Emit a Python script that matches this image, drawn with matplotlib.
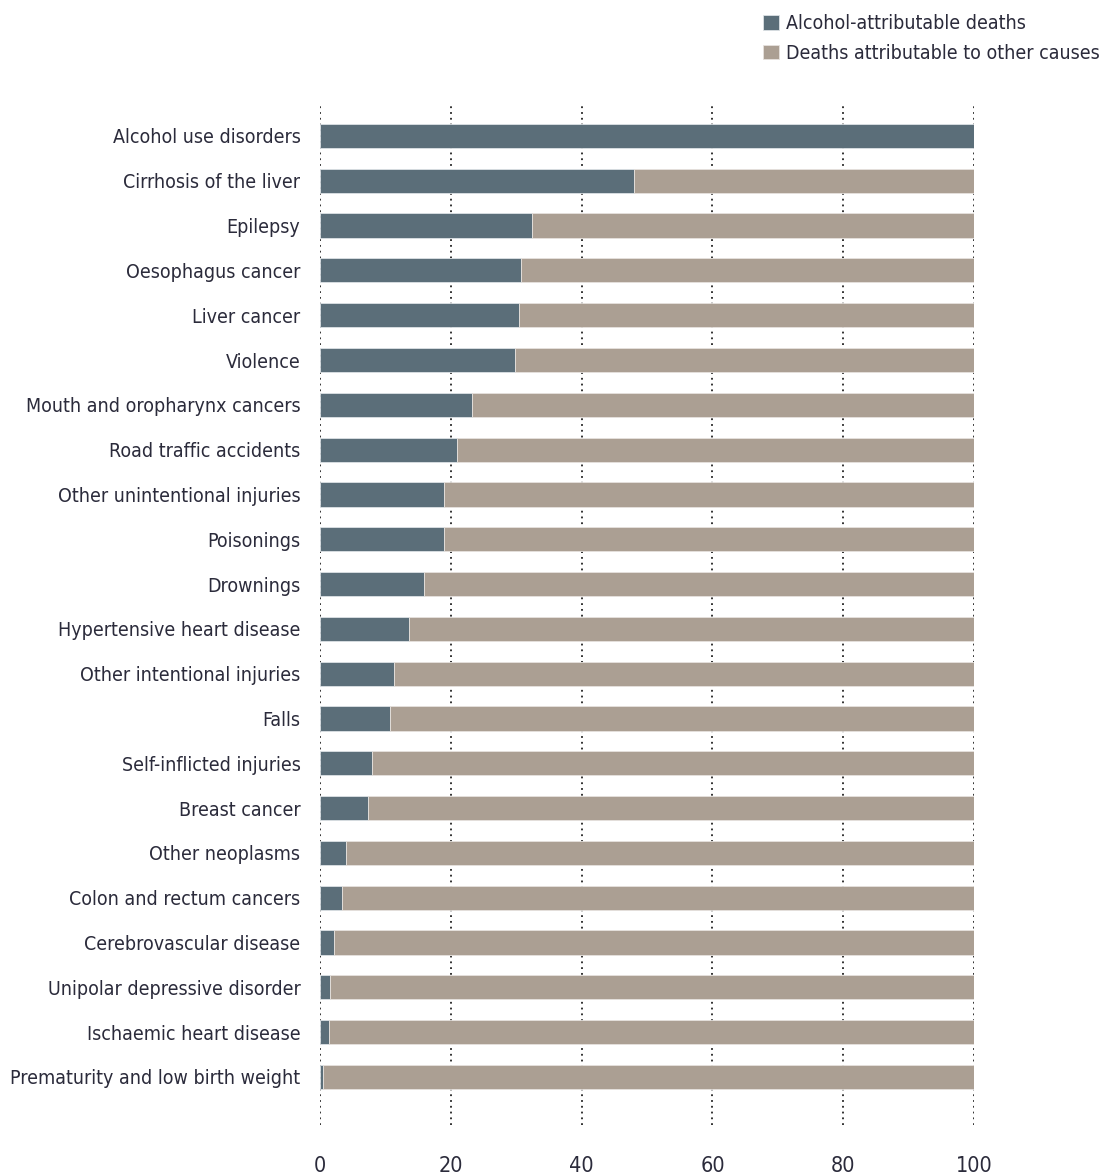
import matplotlib.pyplot as plt
from matplotlib import font_manager
import numpy as np

# === DATA ===
causes = [
    "Alcohol use disorders", "Cirrhosis of the liver", "Epilepsy", "Oesophagus cancer",
    "Liver cancer", "Violence", "Mouth and oropharynx cancers", "Road traffic accidents",
    "Other unintentional injuries", "Poisonings", "Drownings", "Hypertensive heart disease",
    "Other intentional injuries", "Falls", "Self-inflicted injuries", "Breast cancer",
    "Other neoplasms", "Colon and rectum cancers", "Cerebrovascular disease",
    "Unipolar depressive disorder", "Ischaemic heart disease", "Prematurity and low birth weight",
]
alcohol_pct = [100, 48.0, 32.4, 30.7, 30.4, 29.8, 23.2, 20.9, 19.0, 19.0, 15.9, 13.6,
               11.3, 10.7, 8.0, 7.3, 4.0, 3.4, 2.1, 1.5, 1.4, 0.5]
other_pct = [100 - v for v in alcohol_pct]
x_ticks = [0, 20, 40, 60, 80, 100]

# === STYLE ===
DARK = "#5b6e79"
LIGHT = "#ab9f93"
TEXT = "#2b2b3b"

# pick a narrow font if one is installed
names = {(f.name, f.stretch) for f in font_manager.fontManager.ttflist}
stretch = "normal"
if any(n == "Liberation Sans Narrow" for n, _ in names):
    plt.rcParams["font.family"] = ["Liberation Sans Narrow", "DejaVu Sans"]
else:
    plt.rcParams["font.family"] = ["DejaVu Sans"]
    if ("DejaVu Sans", "condensed") in names or ("DejaVu Sans", "semi-condensed") in names:
        stretch = "condensed"
plt.rcParams["font.stretch"] = stretch
size = 14 if stretch == "condensed" else 12.5

fig = plt.figure(figsize=(11.07, 11.75), dpi=100)
ax = fig.add_axes([0.289, 0.0426, 0.591, 0.868])

y = np.arange(len(causes))
ax.barh(y, alcohol_pct, height=0.54, color=DARK, edgecolor="#dde2e6", linewidth=0.6,
        label="Alcohol-attributable deaths", zorder=3)
ax.barh(y, other_pct, left=alcohol_pct, height=0.54, color=LIGHT, edgecolor="#e6e2de",
        linewidth=0.6, label="Deaths attributable to other causes", zorder=3)

for t in x_ticks:
    ax.axvline(t, color="#222222", linestyle=(0, (1, 2.2)), linewidth=1.3, zorder=1)

ax.set_xlim(0, 100)
ax.set_ylim(22.07, -0.69)
ax.set_xticks(x_ticks)
ax.set_yticks(y)
ax.set_yticklabels(causes, fontsize=size, color=TEXT)
ax.tick_params(axis="x", length=0, pad=22, labelsize=size + 1.5, labelcolor=TEXT)
ax.tick_params(axis="y", length=0, pad=14)
for s in ax.spines.values():
    s.set_visible(False)

fig.legend(loc="upper right", bbox_to_anchor=(0.999, 0.993), frameon=False,
           fontsize=size, handlelength=0.8, handleheight=0.8, handletextpad=0.4,
           labelspacing=0.55, labelcolor=TEXT, borderpad=0.2, borderaxespad=0.1)

fig.savefig("out.png", dpi=100)
